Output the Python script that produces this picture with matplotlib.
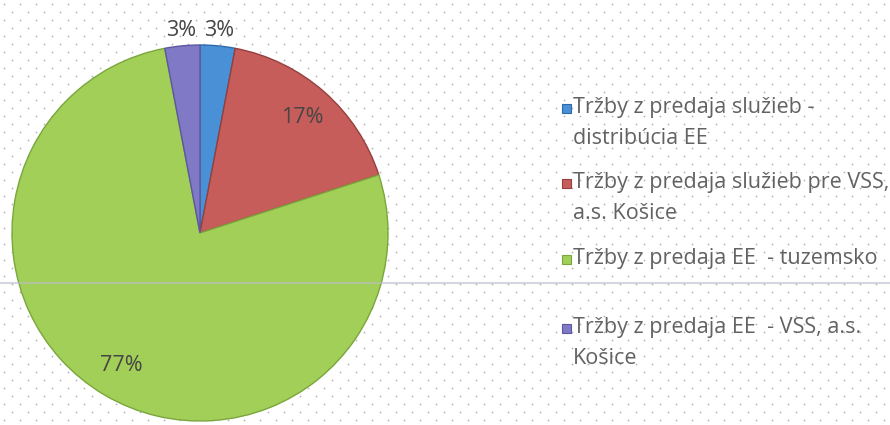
import matplotlib.pyplot as plt
import numpy as np
from matplotlib.lines import Line2D
from matplotlib.patches import Rectangle

# data (share of revenues, %)
labels = ['Tržby z predaja služieb -\ndistribúcia EE',
          'Tržby z predaja služieb pre VSS,\na.s. Košice',
          'Tržby z predaja EE  - tuzemsko',
          'Tržby z predaja EE  - VSS, a.s.\nKošice']
values = [3, 17, 77, 3]
pct_labels = ['3%', '17%', '77%', '3%']
colors = ['#4a90d6', '#c65d5a', '#a2cf58', '#8079c6']
edges = ['#2f6aa8', '#94403e', '#7aa63c', '#5d56a0']

plt.rcParams['font.family'] = ['Open Sans', 'DejaVu Sans']

W, H = 890, 425
fig = plt.figure(figsize=(W / 100, H / 100), dpi=100)
fig.patch.set_facecolor('white')

# dotted background
bg = fig.add_axes([0, 0, 1, 1], zorder=0)
bg.set_xlim(0, W)
bg.set_ylim(H, 0)
bg.axis('off')
gx, gy = [], []
for j, yy in enumerate(np.arange(4, H, 8)):
    for xx in np.arange(4 + 8 * (j % 2), W, 16):
        gx.append(xx)
        gy.append(yy)
bg.scatter(gx, gy, s=1.6, c='#b4b4b4', linewidths=0)

# pie
cx, cy, r = 200, 233, 188
ax = fig.add_axes([(cx - r) / W, (H - cy - r) / H, 2 * r / W, 2 * r / H], zorder=1)
ax.patch.set_visible(False)
wedges, _ = ax.pie(values, colors=colors, startangle=90, counterclock=False,
                   radius=1, wedgeprops=dict(linewidth=1.0))
for w, ec in zip(wedges, edges):
    w.set_edgecolor(ec)
ax.set_xlim(-1, 1)
ax.set_ylim(-1, 1)
ax.axis('off')

for w, t, v in zip(wedges, pct_labels, values):
    mid = np.deg2rad((w.theta1 + w.theta2) / 2)
    d = 1.08 if v < 5 else 0.82
    ax.text(d * np.cos(mid), d * np.sin(mid), t, ha='center', va='center',
            fontsize=15.5, color='#454545', clip_on=False)

# legend
y0 = 108
steps = [0, 75, 151, 220]
for lab, col, ec, st in zip(labels, colors, edges, steps):
    yy = y0 + st
    fig.add_artist(Rectangle((562 / W, 1 - (yy + 4.5) / H), 9 / W, 9 / H,
                             facecolor=col, edgecolor=ec, lw=0.8))
    fig.text(573 / W, 1 - (yy - 11) / H, lab, ha='left', va='top',
             fontsize=15.5, color='#626262', linespacing=1.6)

# faint horizontal scan line
fig.add_artist(Line2D([0, 1], [1 - 283 / H, 1 - 283 / H], color='#b8bccb',
                      lw=1.5, alpha=0.6, zorder=5))

fig.savefig('out.png', dpi=100)
